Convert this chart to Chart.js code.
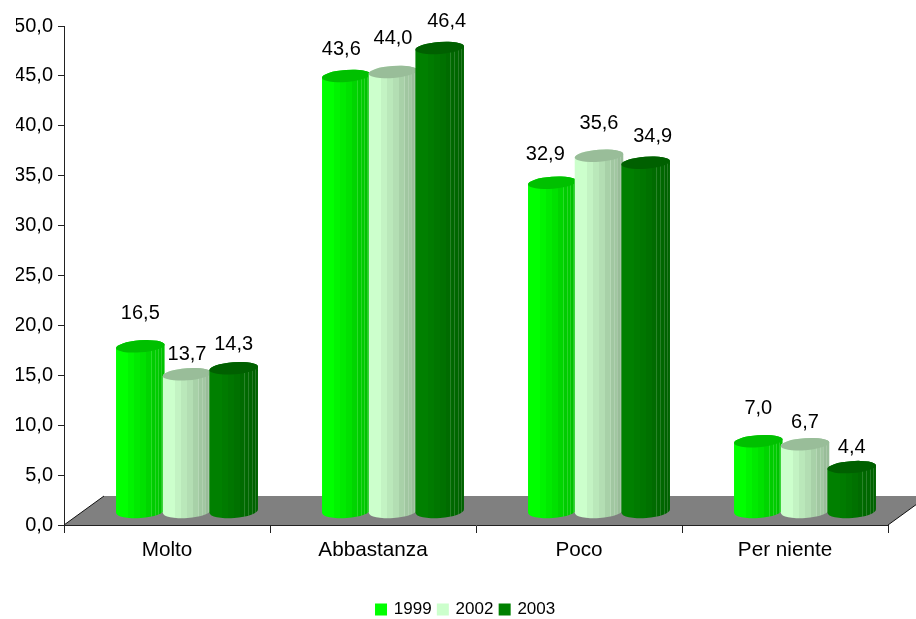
<!DOCTYPE html>
<html>
<head>
<meta charset="utf-8">
<title>Chart</title>
<script src="https://cdn.jsdelivr.net/npm/chart.js@4"></script>
<style>
  html, body { margin: 0; padding: 0; background: #fff; }
  #wrap { width: 916px; height: 619px; }
</style>
</head>
<body>
<div id="wrap"><canvas id="chart"></canvas></div>
<script>
const categories = ["Molto", "Abbastanza", "Poco", "Per niente"];
const seriesNames = ["1999", "2002", "2003"];
const values1999 = [16.5, 43.6, 32.9, 7.0];
const values2002 = [13.7, 44.0, 35.6, 6.7];
const values2003 = [14.3, 46.4, 34.9, 4.4];

// where each value label sits relative to its bar (px), by series then category
const labelLift = [[33, 26, 28, 33], [20, 33, 32, 22], [24, 26, 26, 20]];
const labelShift = [[0, -5, -7, 0], [0, 0, 0, 0], [0, 7, 7, 0]];

// series colours: light side, dark side, top of the cylinder
const lightColors = ["#00ff00", "#ccffcc", "#008000"];
const darkColors = [[0, 195, 0], [153, 189, 153], [0, 98, 0]];
const capColors = ["#00c000", "#99bd99", "#006000"];

const depthX = 40, depthY = 29; // floor perspective
const barShiftX = 20;
const comma = v => v.toFixed(1).replace(".", ",");

function mix(hex, rgb, t) {
  const a = [1, 3, 5].map(i => parseInt(hex.substr(i, 2), 16));
  return "rgb(" + a.map((c, i) => Math.round(c + (rgb[i] - c) * t)).join(",") + ")";
}

// stepped fill so the cylinder looks faceted like the original
function cylinderFill(ctx, left, right, s) {
  const g = ctx.createLinearGradient(left, 0, right, 0);
  const bands = [0, 0, 0.18, 0.35, 0.5, 0.7, 0.85, 1];
  bands.forEach((t, i) => {
    const c = mix(lightColors[s], darkColors[s], t);
    g.addColorStop(i / bands.length, c);
    g.addColorStop((i + 1) / bands.length, c);
  });
  return g;
}

function drawCylinder(ctx, bar, s) {
  const rx = bar.width / 2 + 1, ry = 6, tilt = -0.075;
  const cx = bar.x + barShiftX;
  ctx.save();
  ctx.beginPath();
  ctx.ellipse(cx, bar.base, rx, ry + 1, tilt, 0, Math.PI);
  ctx.ellipse(cx, bar.y, rx, ry, tilt, Math.PI, Math.PI * 2);
  ctx.closePath();
  ctx.fillStyle = cylinderFill(ctx, cx - rx, cx + rx, s);
  ctx.fill();
  // thin pale facet lines near the right edge
  ctx.clip();
  ctx.strokeStyle = "rgba(255,255,255,0.16)";
  ctx.lineWidth = 1;
  [0.72, 0.8, 0.87, 0.93].forEach(f => {
    const x = Math.round(cx - rx + 2 * rx * f) + 0.5;
    ctx.beginPath();
    ctx.moveTo(x, bar.y);
    ctx.lineTo(x, bar.base + ry);
    ctx.stroke();
  });
  ctx.restore();
  ctx.beginPath();
  ctx.ellipse(cx, bar.y, rx, ry, tilt, 0, Math.PI * 2);
  ctx.fillStyle = capColors[s];
  ctx.fill();
}

const floorAndCylinders = {
  id: "floorAndCylinders",
  beforeDatasetsDraw(chart) {
    const { ctx, chartArea: a } = chart;
    // grey floor
    ctx.save();
    ctx.beginPath();
    ctx.moveTo(a.left, a.bottom);
    ctx.lineTo(a.right, a.bottom);
    ctx.lineTo(a.right + depthX, a.bottom - depthY);
    ctx.lineTo(a.left + depthX, a.bottom - depthY);
    ctx.closePath();
    ctx.fillStyle = "#808080";
    ctx.fill();
    ctx.strokeStyle = "#111";
    ctx.lineWidth = 1;
    ctx.beginPath();
    ctx.moveTo(a.left, a.bottom);
    ctx.lineTo(a.left + depthX, a.bottom - depthY);
    ctx.moveTo(a.right, a.bottom);
    ctx.lineTo(a.right + depthX, a.bottom - depthY);
    ctx.stroke();

    // bars, left to right so each one overlaps the one before
    categories.forEach((c, i) => {
      seriesNames.forEach((n, s) => {
        drawCylinder(ctx, chart.getDatasetMeta(s).data[i], s);
      });
    });

    // value labels
    ctx.fillStyle = "#000";
    ctx.font = "20px 'Liberation Sans'";
    ctx.textAlign = "center";
    ctx.textBaseline = "middle";
    seriesNames.forEach((n, s) => {
      chart.getDatasetMeta(s).data.forEach((bar, i) => {
        const v = chart.data.datasets[s].data[i];
        ctx.fillText(comma(v), bar.x + barShiftX + labelShift[s][i], bar.y - labelLift[s][i]);
      });
    });
    ctx.restore();
    return false;
  }
};

new Chart(document.getElementById("chart"), {
  type: "bar",
  data: {
    labels: categories,
    datasets: [
      { label: seriesNames[0], data: values1999, backgroundColor: lightColors[0], borderColor: lightColors[0], borderWidth: 3.5, yAxisID: "y2" },
      { label: seriesNames[1], data: values2002, backgroundColor: lightColors[1], borderColor: lightColors[1], borderWidth: 3.5, yAxisID: "y2" },
      { label: seriesNames[2], data: values2003, backgroundColor: lightColors[2], borderColor: lightColors[2], borderWidth: 3.5, yAxisID: "y2" }
    ]
  },
  plugins: [floorAndCylinders],
  options: {
    responsive: true,
    maintainAspectRatio: false,
    animation: false,
    categoryPercentage: 0.68,
    barPercentage: 1,
    layout: { padding: { left: 16, top: 26, right: 0, bottom: -9 } },
    plugins: {
      tooltip: { enabled: false },
      legend: {
        position: "bottom",
        labels: {
          boxWidth: 8.5,
          boxHeight: 8.5,
          padding: 7,
          color: "#000",
          font: { family: "'Liberation Sans'", size: 17 }
        }
      }
    },
    scales: {
      x: {
        grid: { drawOnChartArea: false, color: "#222", tickLength: 8, offset: true },
        border: { color: "#222" },
        ticks: { color: "#000", padding: 5, maxRotation: 0, font: { family: "'Liberation Sans'", size: 20.7 } },
        afterFit(scale) { scale.height = 69; }
      },
      y: {
        min: 0,
        max: 50,
        grid: { drawOnChartArea: false, color: "#222", tickLength: 6 },
        border: { color: "#222" },
        ticks: {
          stepSize: 5,
          color: "#000",
          padding: 5,
          font: { family: "'Liberation Sans'", size: 20 },
          callback: v => comma(v)
        },
        afterFit(scale) { scale.width = 48; }
      },
      // hidden axis for the bars: same scale as y but lifted to the middle of the floor
      y2: {
        display: false,
        position: "right",
        min: -1.4,
        max: 48.6,
        afterFit(scale) { scale.width = 28; }
      }
    }
  }
});
</script>
</body>
</html>
